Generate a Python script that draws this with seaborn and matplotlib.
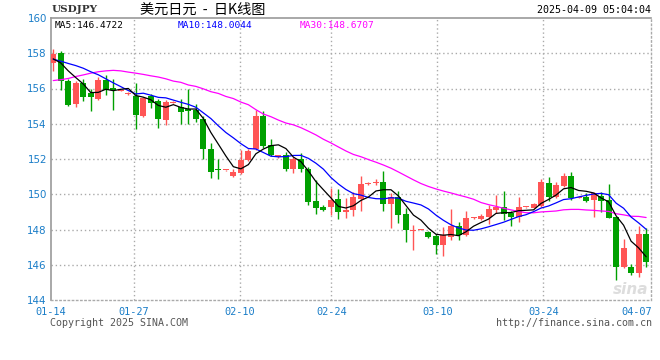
import numpy as np
import pandas as pd
import matplotlib
matplotlib.use("Agg")
import matplotlib.pyplot as plt
import seaborn as sns

# ---- data (USDJPY daily K) ----
opens = [157.47, 158.00, 156.42, 155.14, 156.30, 155.73, 155.39, 156.51, 156.04, 155.88,
         155.68, 155.58, 154.42, 155.60, 155.28, 154.23, 155.20, 154.93, 154.85, 154.78,
         154.29, 152.57, 151.40, 151.35, 151.05, 151.20, 151.94, 152.55, 154.42, 152.77,
         152.10, 152.20, 151.42, 152.00, 151.45, 149.60, 149.30, 149.30, 149.72, 149.02,
         149.08, 149.73, 150.60, 150.62, 150.72, 149.45, 149.83, 148.86, 147.92, 147.98,
         147.85, 147.62, 147.10, 147.60, 148.18, 147.68, 148.64, 148.59, 148.72, 149.10,
         149.25, 148.95, 148.72, 149.25, 149.24, 149.33, 150.66, 149.85, 150.48, 151.04,
         149.81, 149.84, 149.68, 149.90, 149.68, 148.70, 145.90, 145.90, 145.52, 147.75]
highs = [158.25, 158.15, 156.53, 156.44, 156.55, 156.00, 156.65, 156.78, 156.52, 155.92,
         155.80, 156.29, 155.52, 155.70, 155.43, 155.33, 155.28, 155.40, 155.95, 155.10,
         154.45, 152.90, 152.00, 151.40, 151.45, 152.50, 152.55, 154.78, 154.70, 153.15,
         152.22, 152.40, 152.10, 152.33, 151.53, 150.80, 149.40, 150.35, 150.32, 149.80,
         150.12, 151.05, 150.68, 150.85, 151.32, 150.05, 150.20, 149.20, 148.24, 148.04,
         147.92, 147.75, 148.12, 149.18, 148.42, 149.04, 148.72, 148.87, 149.39, 149.96,
         150.18, 149.04, 149.82, 149.30, 149.48, 150.88, 150.98, 150.72, 151.19, 151.25,
         149.90, 150.05, 150.15, 150.15, 150.57, 148.72, 147.45, 146.05, 148.18, 148.10]
lows = [157.00, 155.92, 155.02, 154.95, 155.30, 154.72, 155.33, 155.62, 154.76, 155.86,
        155.65, 153.71, 154.38, 154.90, 153.77, 153.94, 155.18, 153.97, 154.00, 154.10,
        152.00, 150.95, 150.88, 151.33, 150.98, 151.15, 151.90, 152.50, 152.60, 152.15,
        152.08, 151.32, 151.20, 151.25, 149.40, 148.90, 149.05, 148.85, 148.57, 148.65,
        148.75, 149.07, 150.55, 150.55, 149.05, 148.07, 148.38, 147.28, 146.86, 147.95,
        147.50, 146.60, 146.47, 147.40, 147.42, 147.62, 148.62, 148.52, 148.30, 148.95,
        148.54, 148.20, 148.45, 149.22, 149.20, 149.30, 149.60, 149.80, 150.40, 149.66,
        149.78, 149.55, 148.69, 148.97, 148.64, 145.14, 145.80, 145.40, 145.30, 145.90]
closes = [157.96, 156.45, 155.05, 156.30, 155.52, 155.52, 156.51, 155.94, 155.90, 155.90,
          155.76, 154.51, 155.47, 155.17, 154.29, 155.24, 155.25, 154.68, 154.72, 154.28,
          152.57, 151.28, 151.35, 151.38, 151.24, 151.96, 152.48, 154.42, 152.72, 152.20,
          152.20, 151.42, 152.00, 151.42, 149.55, 149.20, 149.10, 149.70, 149.00, 149.10,
          149.85, 150.60, 150.66, 150.72, 149.45, 149.85, 148.82, 147.96, 148.00, 148.02,
          147.56, 147.10, 147.71, 148.19, 147.68, 148.67, 148.68, 148.76, 149.16, 149.30,
          148.87, 148.72, 149.28, 149.28, 149.42, 150.70, 149.85, 150.52, 151.05, 149.78,
          149.87, 149.62, 150.05, 149.64, 148.67, 145.90, 146.95, 145.52, 147.75, 146.15]
# moving-average values before enough bars are inside the window
ma5_head = [157.68, 157.45, 157.00, 156.62]
ma10_head = [157.66, 157.55, 157.42, 157.30, 157.15, 156.95, 156.78, 156.55, 156.32]
ma30_head = [156.45, 156.50, 156.57, 156.68, 156.77, 156.87, 156.95, 157.00, 157.03, 157.00,
             156.93, 156.87, 156.80, 156.72, 156.65, 156.55, 156.42, 156.35, 156.20, 156.12,
             155.98, 155.82, 155.72, 155.55, 155.43, 155.23, 155.08, 154.80, 154.55]
ma_labels = ["MA5:146.4722", "MA10:148.0044", "MA30:148.6707"]
xtick_pos = [-0.3, 10.7, 24.85, 37.05, 51.2, 65.3, 77.8]
xtick_labels = ["01-14", "01-27", "02-10", "02-24", "03-10", "03-24", "04-07"]
ytick_vals = [144, 146, 148, 150, 152, 154, 156, 158, 160]

sns.set_style("white")
plt.rcParams['font.family'] = ['DejaVu Sans']

df = pd.DataFrame({"o": opens, "h": highs, "l": lows, "c": closes})
df["i"] = np.arange(len(df))
ma5 = df["c"].rolling(5).mean().to_numpy()
ma5[:len(ma5_head)] = ma5_head
ma10 = df["c"].rolling(10).mean().to_numpy()
ma10[:len(ma10_head)] = ma10_head
ma30 = df["c"].rolling(30).mean().to_numpy()
ma30[:len(ma30_head)] = ma30_head

W, H = 660, 360
fig = plt.figure(figsize=(W / 100, H / 100), dpi=100)
fig.patch.set_facecolor("white")
ax = fig.add_axes([51 / W, 60 / H, 600 / W, 282 / H])
ax.set_facecolor("white")

RED = "#ff5555"
GREEN = "#00a000"
up = df["c"] >= df["o"]
colors = np.where(up, RED, GREEN)

grid_kw = dict(color="#aaaaaa", lw=1, ls=(0, (1, 2)), zorder=1)
for y in ytick_vals[1:-1]:
    ax.axhline(y, **grid_kw)
for x in xtick_pos[1:-1]:
    ax.axvline(x, **grid_kw)

ax.vlines(df["i"], df["l"], df["h"], colors=colors, lw=1, zorder=2)
body = (df["c"] - df["o"]).abs().clip(lower=0.06)
ax.bar(df["i"], body, bottom=np.minimum(df["o"], df["c"]), width=0.8,
       color=colors, lw=0, zorder=3)

long = pd.concat([
    pd.DataFrame({"i": df["i"], "v": ma30, "s": "MA30"}),
    pd.DataFrame({"i": df["i"], "v": ma10, "s": "MA10"}),
    pd.DataFrame({"i": df["i"], "v": ma5, "s": "MA5"}),
])
sns.lineplot(data=long, x="i", y="v", hue="s",
             palette={"MA5": "black", "MA10": "#0000ff", "MA30": "#ff00ff"},
             hue_order=["MA30", "MA10", "MA5"],
             lw=0.9, legend=False, ax=ax, zorder=4, estimator=None)

ax.set_xlim(-0.3, 79.65)
ax.set_ylim(144, 160)
ax.set_xlabel("")
ax.set_ylabel("")
ax.set_yticks(ytick_vals)
ax.set_yticklabels([str(v) for v in ytick_vals])
ax.set_xticks(xtick_pos)
ax.set_xticklabels(xtick_labels, family="DejaVu Sans Mono")
ax.tick_params(axis="both", length=0, colors="#1a7dc8", labelsize=7.4)
ax.tick_params(axis="y", pad=3)
ax.tick_params(axis="x", pad=5)

for side in ["left", "top"]:
    ax.spines[side].set_color("#999999")
    ax.spines[side].set_linewidth(1.2)
for side in ["right", "bottom"]:
    ax.spines[side].set_color("#aaaaaa")
    ax.spines[side].set_linewidth(1)
    ax.spines[side].set_linestyle((0, (1, 2)))

# watermark
ax.text(0.995, 0.01, "sina", transform=ax.transAxes, ha="right", va="bottom",
        fontsize=11, fontweight="bold", fontstyle="italic", color="#dddddd", zorder=0)

def ftext(x, y, s, **kw):
    fig.text(x / W, 1 - y / H, s, va="center", **kw)

ftext(52, 10, "USDJPY", family="DejaVu Serif", fontsize=7.5, color="#333333",
      fontweight="bold")
ftext(140, 10, "美元日元  -  日K线图", family=["Noto Sans CJK SC", "DejaVu Sans"],
      fontsize=10.2, color="black")
ftext(651, 10, "2025-04-09 05:04:04", family="DejaVu Sans Mono", fontsize=7.2,
      color="black", ha="right")
ftext(55, 25, ma_labels[0], family="DejaVu Sans Mono", fontsize=6.8, color="black")
ftext(178, 25, ma_labels[1], family="DejaVu Sans Mono", fontsize=6.8, color="#0000ff")
ftext(300, 25, ma_labels[2], family="DejaVu Sans Mono", fontsize=6.8, color="#ff00ff")
ftext(50, 323, "Copyright 2025 SINA.COM", family="DejaVu Sans Mono", fontsize=7.2,
      color="#555555")
ftext(652, 323, "http://finance.sina.com.cn", family="DejaVu Sans Mono", fontsize=7.2,
      color="#555555", ha="right")

fig.savefig("out.png", dpi=100, facecolor="white")
